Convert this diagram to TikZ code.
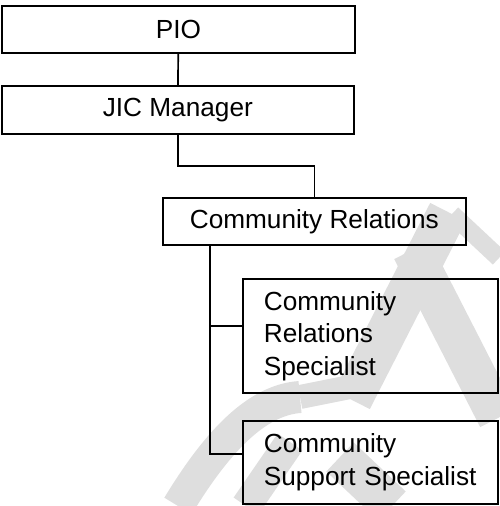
\documentclass[tikz,border=0pt]{standalone}
\usepackage{fontspec}
\setmainfont{Liberation Sans}
\definecolor{wmgray}{RGB}{222,222,222}
\begin{document}
\begin{tikzpicture}[x=1pt,y=-1pt,
  box/.style={draw=black, line width=1.7pt, rectangle, inner sep=0pt,
    anchor=north west, font=\fontsize{26.2}{32.5}\selectfont},
  leftbox/.style={box, align=left, inner xsep=21pt, text width=213pt},
  wire/.style={draw=black, line width=1.7pt},
  wmband/.style={draw=wmgray, line cap=butt}]
\useasboundingbox (0,0) rectangle (499,506);

% faint watermark strokes behind the chart
\draw[wmband, line width=40pt] (448,212) -- (352,400);
\draw[wmband, line width=40pt] (412,250) -- (498,418);
\draw[wmband, line width=18pt] (452,214) -- (499,258);
\draw[wmband, line width=32pt] (178,506) .. controls (215,445) and (255,400) .. (300,397);
\draw[wmband, line width=24pt] (300,397) -- (360,385);
\draw[wmband, line width=30pt] (246,506) -- (290,442);
\draw[wmband, line width=40pt] (340,457) -- (392,506);

% boxes
\node[box, minimum width=353pt, minimum height=47pt] (pio) at (1,5) {PIO};
\node[box, minimum width=352pt, minimum height=48pt] (jic) at (1,85) {JIC Manager};
\node[box, minimum width=303pt, minimum height=47pt] (cr) at (162,197) {Community Relations};
\node[leftbox, minimum height=114pt] (crs) at (242,278) {Community\\Relations\\Specialist};
\node[leftbox, minimum height=83pt] (css) at (242,420) {Community\\Support Specialist};

% connectors
\draw[wire] (pio) -- (jic);
\draw[wire] (jic.south) -- ++(0,-31pt) -| (cr.north);
\coordinate (trunk) at ([xshift=48pt]cr.south west);
\draw[wire] (trunk) |- ([yshift=10pt]crs.west);
\draw[wire] (trunk) |- ([yshift=8.5pt]css.west);
\end{tikzpicture}
\end{document}
